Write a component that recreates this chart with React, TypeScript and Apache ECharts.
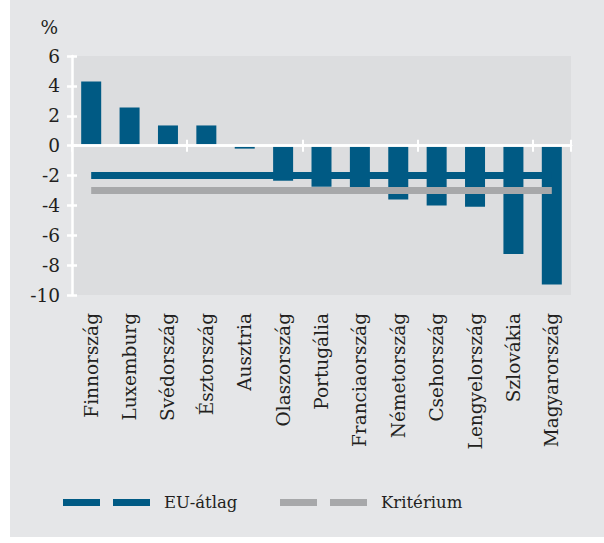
import React, { useEffect, useRef } from "react";
import * as echarts from "echarts";

const categories = [
  "Finnország",
  "Luxemburg",
  "Svédország",
  "Észtország",
  "Ausztria",
  "Olaszország",
  "Portugália",
  "Franciaország",
  "Németország",
  "Csehország",
  "Lengyelország",
  "Szlovákia",
  "Magyarország",
];
const balanceValues = [4.3, 2.55, 1.35, 1.35, -0.2, -2.35, -2.75, -2.9, -3.6, -4.0, -4.1, -7.25, -9.3];
const euAverage = categories.map(() => -2);
const criterion = categories.map(() => -3);
const yMin = -10;
const yMax = 6;
const yStep = 2;

const FONT = "DejaVu Serif";
const BLUE = "#005a84";
const GREY = "#a7a8aa";
const TEXT = "#231f20";

export default function App() {
  const ref = useRef<HTMLDivElement>(null);
  useEffect(() => {
    if (!ref.current) return;
    const chart = echarts.init(ref.current, undefined, { renderer: "svg" });
    const legendIcon = "path://M0,0h37v7h-37z M50,0h37v7h-37z M96,0L96,7";
    const tickAxisBase = {
      type: "category" as const,
      data: categories,
      position: "bottom" as const,
      z: 10,
      axisLine: { show: true, onZero: true, lineStyle: { color: "#ffffff", width: 2.5 } },
      axisLabel: { show: false },
      splitLine: { show: false },
    };
    chart.setOption({
      animation: false,
      backgroundColor: "#ffffff",
      graphic: [
        {
          type: "rect",
          z: -10,
          silent: true,
          shape: { x: 10, y: 0, width: 594, height: 537 },
          style: { fill: "#e5e6e8" },
        },
      ],
      grid: {
        left: 72,
        right: 33,
        top: 56,
        bottom: 248,
        show: true,
        backgroundColor: "#dcdddf",
        borderWidth: 0,
        containLabel: false,
      },
      legend: [
        {
          data: [{ name: "EU-átlag", icon: legendIcon }],
          left: 63,
          top: 494,
          padding: 0,
          itemWidth: 96,
          itemHeight: 7,
          itemStyle: { borderWidth: 0 },
          textStyle: { fontFamily: FONT, fontSize: 16.5, color: TEXT },
        },
        {
          data: [{ name: "Kritérium", icon: legendIcon }],
          left: 280,
          top: 494,
          padding: 0,
          itemWidth: 96,
          itemHeight: 7,
          itemStyle: { borderWidth: 0 },
          textStyle: { fontFamily: FONT, fontSize: 16.5, color: TEXT },
        },
      ],
      xAxis: [
        {
          type: "category",
          data: categories,
          position: "bottom",
          axisLine: { show: false, onZero: false },
          axisTick: { show: false },
          axisLabel: {
            rotate: 90,
            margin: 18,
            fontFamily: FONT,
            fontSize: 18.5,
            color: TEXT,
            interval: 0,
          },
        },
        {
          ...tickAxisBase,
          axisTick: { show: true, inside: false, length: 6, lineStyle: { color: "#ffffff", width: 2 } },
        },
        {
          ...tickAxisBase,
          axisTick: { show: true, inside: true, length: 6, lineStyle: { color: "#ffffff", width: 2 } },
        },
      ],
      yAxis: [
        {
          type: "value",
          min: yMin,
          max: yMax,
          interval: yStep,
          name: "%",
          nameLocation: "end",
          nameGap: 19,
          nameTextStyle: {
            fontFamily: FONT,
            fontSize: 18.5,
            color: TEXT,
            align: "right",
            padding: [0, 14, 0, 0],
          },
          z: 10,
          axisLine: { show: true, onZero: false, lineStyle: { color: "#ffffff", width: 2.5 } },
          axisTick: { show: true, inside: false, length: 5, lineStyle: { color: "#ffffff", width: 2.5 } },
          axisLabel: { margin: 12, fontFamily: FONT, fontSize: 18.5, color: TEXT },
          splitLine: { show: false },
        },
        {
          type: "value",
          min: yMin,
          max: yMax,
          interval: yStep,
          position: "left",
          z: 10,
          axisLine: { show: false },
          axisTick: { show: true, inside: true, length: 5, lineStyle: { color: "#ffffff", width: 2.5 } },
          axisLabel: { show: false },
          splitLine: { show: false },
        },
      ],
      series: [
        {
          name: "Egyenleg",
          type: "bar",
          xAxisIndex: 0,
          yAxisIndex: 0,
          data: balanceValues,
          barWidth: 20,
          itemStyle: { color: BLUE },
        },
        {
          name: "EU-átlag",
          type: "line",
          xAxisIndex: 0,
          yAxisIndex: 0,
          data: euAverage,
          symbol: "none",
          color: BLUE,
          lineStyle: { color: BLUE, width: 7, cap: "butt" },
          itemStyle: { color: BLUE },
        },
        {
          name: "Kritérium",
          type: "line",
          xAxisIndex: 0,
          yAxisIndex: 0,
          data: criterion,
          symbol: "none",
          color: GREY,
          lineStyle: { color: GREY, width: 7, cap: "butt" },
          itemStyle: { color: GREY },
        },
      ],
    });
    return () => chart.dispose();
  }, []);
  return (
    <div
      ref={ref}
      style={{ position: "fixed", left: 0, top: 0, width: 604, height: 543 }}
    />
  );
}
